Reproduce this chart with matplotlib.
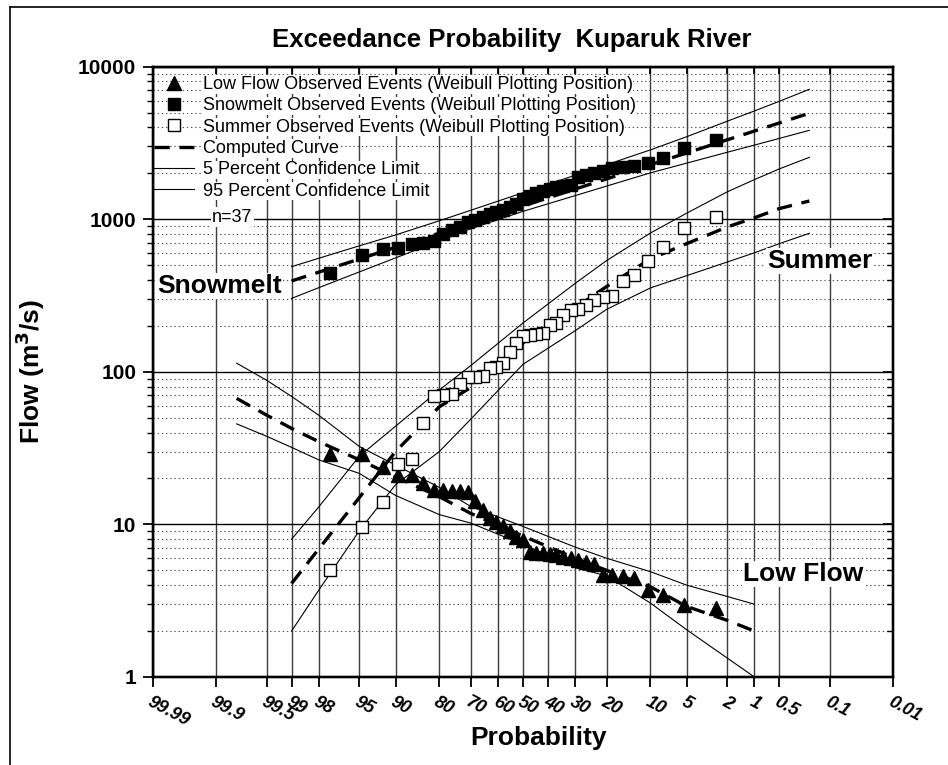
import matplotlib
matplotlib.use('Agg')
import matplotlib.pyplot as plt
from matplotlib.lines import Line2D
from matplotlib.ticker import NullFormatter, LogLocator
from statistics import NormalDist

plt.rcParams['font.family'] = ['Liberation Sans', 'DejaVu Sans']
plt.rcParams['lines.scale_dashes'] = False

# Observed events, rank 1..37 (Weibull plotting position m/(n+1))
n_events = 37
snowmelt_obs = [3310, 2920, 2510, 2340, 2230, 2200, 2160, 2060, 2010, 1960,
                1880, 1680, 1650, 1620, 1580, 1530, 1480, 1420, 1360, 1260,
                1200, 1150, 1120, 1090, 1040, 990, 955, 890, 855, 800,
                725, 700, 690, 650, 640, 585, 445]
summer_obs = [1040, 873, 656, 536, 432, 393, 315, 308, 296, 274,
              258, 255, 236, 208, 203, 179, 176, 175, 172, 155,
              134, 115, 108, 106, 94, 93, 92, 83, 72, 71,
              69, 46, 27, 25, 14, 9.6, 5.0]
low_flow_obs = [2.82, 2.97, 3.45, 3.72, 4.44, 4.56, 4.67, 4.67, 5.5, 5.7,
                5.85, 6.0, 6.15, 6.3, 6.4, 6.5, 6.5, 6.6, 7.9, 8.3,
                9.0, 9.7, 10.4, 11.0, 12.4, 14.3, 16.3, 16.6, 16.6, 16.8,
                16.8, 18.8, 21.2, 21.2, 23.8, 28.8, 28.8]

# Fitted curves and confidence limits (exceedance probability in percent)
curve_probs = [99, 98, 95, 90, 80, 70, 50, 30, 20, 10, 5, 2, 1, 0.5, 0.2]
snowmelt_fit = [394, 450, 549, 655, 811, 946, 1221, 1577, 1840, 2280, 2720, 3318, 3787, 4277, 4955]
snowmelt_hi = [489, 555, 670, 789, 977, 1146, 1493, 1945, 2280, 2851, 3475, 4395, 5130, 5930, 7110]
snowmelt_lo = [303, 356, 452, 558, 721, 867, 1127, 1429, 1651, 2015, 2333, 2750, 3064, 3388, 3828]
summer_fit = [4.1, 6.9, 15, 30, 59, 79, 155, 263, 363, 550, 692, 891, 1023, 1175, 1318]
summer_hi = [8.0, 13, 28, 44, 76, 110, 209, 380, 537, 813, 1096, 1514, 1820, 2138, 2547]
summer_lo = [2.0, 3.7, 9.1, 18.2, 30, 49, 112, 186, 257, 355, 427, 525, 603, 692, 809]

low_probs = [99.8, 99.5, 99, 98, 95, 90, 80, 70, 50, 30, 20, 10, 5, 2, 1]
low_flow_fit = [67, 52, 42.6, 34.9, 26.5, 20.5, 15.2, 11.8, 8.4, 6.0, 5.0, 3.9, 2.9, 2.35, 2.0]
low_flow_hi = [114, 88, 69, 52, 32.4, 24.5, 17.5, 13.1, 9.7, 7.1, 6.0, 4.9, 4.0, 3.37, 3.0]
low_flow_lo = [45.6, 37.8, 32, 26.5, 21.6, 15.5, 11.6, 10.2, 7.4, 5.2, 4.6, 3.05, 2.04, 1.33, 1.0]

prob_ticks = [99.99, 99.9, 99.5, 99, 98, 95, 90, 80, 70, 60, 50, 40, 30, 20, 10,
              5, 2, 1, 0.5, 0.1, 0.01]
prob_labels = ['99.99', '99.9', '99.5', '99', '98', '95', '90', '80', '70', '60', '50',
               '40', '30', '20', '10', '5', '2', '1', '0.5', '0.1', '0.01']

W, H = 948, 765
norm = NormalDist()


def to_z(p):
    """Exceedance percent -> standard normal position on the axis."""
    return norm.inv_cdf(1 - p / 100.0)


def fpx(x, y):
    return x / W, 1 - y / H


obs_z = [to_z(100.0 * m / (n_events + 1)) for m in range(1, n_events + 1)]
curve_z = [to_z(p) for p in curve_probs]
low_z = [to_z(p) for p in low_probs]

fig = plt.figure(figsize=(W / 100, H / 100), dpi=100)
left, bottom = fpx(153, 677)
right, top = fpx(893, 66.7)
ax = fig.add_axes([left, bottom, right - left, top - bottom])

ax.set_yscale('log')
ax.set_ylim(1, 10000)
ax.set_xlim(to_z(99.99), to_z(0.01))

# grid
ax.set_xticks([to_z(p) for p in prob_ticks])
ax.set_xticklabels(prob_labels)
ax.yaxis.set_minor_locator(LogLocator(base=10, subs=range(2, 10), numticks=20))
ax.yaxis.set_minor_formatter(NullFormatter())
ax.set_yticks([1, 10, 100, 1000, 10000])
ax.set_yticklabels(['1', '10', '100', '1000', '10000'], fontweight='bold', fontsize=15)
ax.xaxis.grid(True, color='#3c3c3c', lw=1.0)
ax.yaxis.grid(True, which='major', color='black', lw=1.0)
ax.yaxis.grid(True, which='minor', color='#555555', lw=0.8, linestyle=(0, (1, 2)))
ax.set_axisbelow(True)

for lbl in ax.get_xticklabels():
    lbl.set_rotation(-28)
    lbl.set_rotation_mode('anchor')
    lbl.set_ha('left')
    lbl.set_va('top')
    lbl.set_fontsize(13)
    lbl.set_fontweight('bold')
    lbl.set_fontstyle('italic')

ax.tick_params(axis='x', which='major', direction='out', length=7, width=1.3, pad=5)
ax.tick_params(axis='y', which='major', direction='out', length=7, width=1.3, pad=5)
ax.tick_params(axis='y', which='minor', direction='out', length=4, width=1.0)
for sp in ax.spines.values():
    sp.set_linewidth(1.6)

# right and top inward ticks
ax_r = ax.twinx()
ax_r.set_yscale('log')
ax_r.set_ylim(1, 10000)
ax_r.yaxis.set_minor_locator(LogLocator(base=10, subs=range(2, 10), numticks=20))
ax_r.tick_params(axis='y', which='major', direction='in', length=7, width=1.3, labelright=False)
ax_r.tick_params(axis='y', which='minor', direction='in', length=4, width=1.0, labelright=False)
ax_t = ax.twiny()
ax_t.set_xlim(ax.get_xlim())
ax_t.set_xticks([to_z(p) for p in prob_ticks])
ax_t.tick_params(axis='x', direction='in', length=5, width=1.3, labeltop=False)
for a in (ax_r, ax_t):
    for sp in a.spines.values():
        sp.set_linewidth(1.6)

dash = (0, (11, 7))
thin = dict(color='black', lw=0.8)

# confidence limits and computed curves
for zs, lo, fit, hi in [(curve_z, snowmelt_lo, snowmelt_fit, snowmelt_hi),
                        (curve_z, summer_lo, summer_fit, summer_hi),
                        (low_z, low_flow_lo, low_flow_fit, low_flow_hi)]:
    ax.plot(zs, hi, **thin, zorder=3)
    ax.plot(zs, lo, **thin, zorder=3)
    ax.plot(zs, fit, color='black', lw=2.4, linestyle=dash, zorder=3)

# observed events
ax.plot(obs_z, low_flow_obs, linestyle='none', marker='^', ms=9.5,
        mfc='black', mec='black', zorder=5)
ax.plot(obs_z, snowmelt_obs, linestyle='none', marker='s', ms=8,
        mfc='black', mec='black', zorder=5)
ax.plot(obs_z, summer_obs, linestyle='none', marker='s', ms=8,
        mfc='white', mec='black', mew=1.0, zorder=5)

handles = [
    Line2D([], [], linestyle='none', marker='^', ms=9.5, mfc='black', mec='black'),
    Line2D([], [], linestyle='none', marker='s', ms=8, mfc='black', mec='black'),
    Line2D([], [], linestyle='none', marker='s', ms=8, mfc='white', mec='black'),
    Line2D([], [], color='black', lw=2.4, linestyle=dash),
    Line2D([], [], **thin),
    Line2D([], [], **thin),
]
labels = ['Low Flow Observed Events (Weibull Plotting Position)',
          'Snowmelt Observed Events (Weibull Plotting Position)',
          'Summer Observed Events (Weibull Plotting Position)',
          'Computed Curve',
          '5 Percent Confidence Limit',
          '95 Percent Confidence Limit']
leg = ax.legend(handles, labels, loc='upper left', bbox_to_anchor=fpx(154, 76),
                bbox_transform=fig.transFigure, frameon=False, fontsize=13,
                handlelength=2.2, handletextpad=0.5, labelspacing=0.24,
                borderpad=0, borderaxespad=0)
leg.set_zorder(10)
for t in leg.get_texts():
    t.set_bbox(dict(facecolor='white', edgecolor='none', pad=0.5))

white = dict(facecolor='white', edgecolor='none', pad=1)
fig.text(*fpx(212, 217), 'n=37', fontsize=13, ha='left', va='center', bbox=white, zorder=10)
fig.text(*fpx(157, 286), 'Snowmelt', fontsize=19, fontweight='bold', ha='left',
         va='center', bbox=white, zorder=10)
fig.text(*fpx(767, 261), 'Summer', fontsize=19, fontweight='bold', ha='left',
         va='center', bbox=white, zorder=10)
fig.text(*fpx(743, 574), 'Low Flow', fontsize=19, fontweight='bold', ha='left',
         va='center', bbox=white, zorder=10)

fig.text(*fpx(512, 40), 'Exceedance Probability  Kuparuk River', fontsize=18.5,
         fontweight='bold', ha='center', va='center')
fig.text(*fpx(539, 738), 'Probability', fontsize=19, fontweight='bold',
         ha='center', va='center')
fig.text(*fpx(30, 372), 'Flow (m$\\mathbf{^3}$/s)', fontsize=19, fontweight='bold',
         rotation=90, ha='center', va='center')

# outer frame
fig.add_artist(Line2D([10 / W, 1], [1 - 7 / H, 1 - 7 / H], transform=fig.transFigure,
                      color='black', lw=1.2))
fig.add_artist(Line2D([10 / W, 10 / W], [0, 1 - 7 / H], transform=fig.transFigure,
                      color='black', lw=1.2))

fig.savefig('out.png', dpi=100)
